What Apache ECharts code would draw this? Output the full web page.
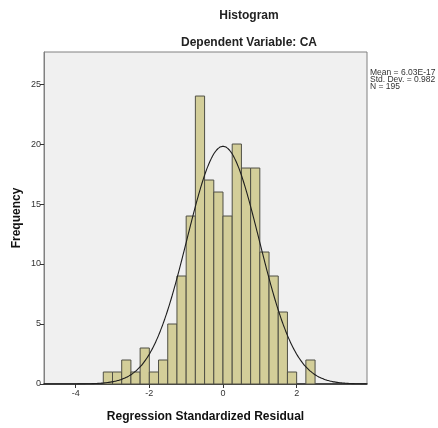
<!DOCTYPE html>
<html>
<head>
<meta charset="utf-8">
<title>Histogram</title>
<script src="https://cdn.jsdelivr.net/npm/echarts@6/dist/echarts.min.js"></script>
<style>
  html, body { margin: 0; padding: 0; background: #ffffff; }
  #chart { width: 438px; height: 428px; }
</style>
</head>
<body>
<div id="chart"></div>
<script>
// Lower edge of each residual bin (bin width 0.25)
const binLowerEdges = [-3.25, -3.0, -2.75, -2.5, -2.25, -2.0, -1.75, -1.5, -1.25, -1.0,
  -0.75, -0.5, -0.25, 0.0, 0.25, 0.5, 0.75, 1.0, 1.25, 1.5, 1.75, 2.0, 2.25];
const binWidth = 0.25;
// Frequency in each bin
const frequencies = [1, 1, 2, 1, 3, 1, 2, 5, 9, 14, 24, 17, 16, 14, 20, 18, 18, 11, 9, 6, 1, 0, 2];
// Summary statistics of the residuals
const stats = { mean: 6.03e-17, stdDev: 0.982, n: 195 };
const statLines = ['Mean = 6.03E-17', 'Std. Dev. = 0.982', 'N = 195'];
// Axis ticks
const xTicks = [-4, -2, 0, 2];
const yTicks = [0, 5, 10, 15, 20, 25];
const xRange = [-4.86, 3.91];
const yRange = [0, 27.67];

// Fitted normal curve scaled to counts per bin
const curve = [];
for (let x = xRange[0]; x <= xRange[1] + 1e-9; x += 0.04) {
  const z = (x - stats.mean) / stats.stdDev;
  const y = stats.n * binWidth / (stats.stdDev * Math.sqrt(2 * Math.PI)) * Math.exp(-0.5 * z * z);
  curve.push([x, y]);
}

const barData = binLowerEdges.map((lo, i) => [lo, lo + binWidth, frequencies[i]]);

const chart = echarts.init(document.getElementById('chart'), null, { renderer: 'canvas' });
const font = 'Arial, "Liberation Sans", sans-serif';

chart.setOption({
  animation: false,
  textStyle: { fontFamily: font },
  title: [
    { text: 'Histogram', left: 244, top: 5, textAlign: 'center',
      textStyle: { fontSize: 12, fontWeight: 'bold', color: '#222', fontFamily: font } },
    { text: 'Dependent Variable: CA', left: 244, top: 32, textAlign: 'center',
      textStyle: { fontSize: 12, fontWeight: 'bold', color: '#222', fontFamily: font } }
  ],
  grid: {
    left: 44, right: 71, top: 52, bottom: 43,
    show: true, backgroundColor: '#f0f0f0', borderColor: '#808080', borderWidth: 1
  },
  xAxis: {
    type: 'value', min: xRange[0], max: xRange[1],
    name: 'Regression Standardized Residual', nameLocation: 'middle', nameGap: 27,
    nameMoveOverlap: false,
    nameTextStyle: { fontSize: 12, fontWeight: 'bold', color: '#111', fontFamily: font },
    axisLine: { show: true, onZero: false, lineStyle: { color: '#222', width: 1.5 } },
    axisTick: { show: true, length: 4, customValues: xTicks, lineStyle: { color: '#333' } },
    axisLabel: { customValues: xTicks, fontSize: 9, color: '#333', margin: 5, fontFamily: font },
    splitLine: { show: false }
  },
  yAxis: {
    type: 'value', min: yRange[0], max: yRange[1],
    name: 'Frequency', nameLocation: 'middle', nameGap: 21, nameRotate: 90,
    nameMoveOverlap: false,
    nameTextStyle: { fontSize: 12, fontWeight: 'bold', color: '#111', fontFamily: font },
    axisLine: { show: true, onZero: false, lineStyle: { color: '#808080', width: 1 } },
    axisTick: { show: true, length: 4, customValues: yTicks, lineStyle: { color: '#333' } },
    axisLabel: { customValues: yTicks, fontSize: 9, color: '#333', margin: 3, fontFamily: font },
    splitLine: { show: false }
  },
  graphic: [{
    type: 'text', left: 370, top: 68,
    style: { text: statLines.join('\n'), font: '8.5px ' + font, lineHeight: 7, fill: '#333' }
  }],
  series: [
    {
      type: 'custom',
      data: barData,
      encode: { x: [0, 1], y: 2 },
      renderItem: function (params, api) {
        const p0 = api.coord([api.value(0), api.value(2)]);
        const p1 = api.coord([api.value(1), 0]);
        if (api.value(2) <= 0) return null;
        return {
          type: 'rect',
          shape: { x: p0[0], y: p0[1], width: p1[0] - p0[0], height: p1[1] - p0[1] },
          style: { fill: '#d3ce99', stroke: '#4f4f45', lineWidth: 1 }
        };
      },
      z: 2
    },
    {
      type: 'line',
      data: curve,
      showSymbol: false,
      smooth: true,
      lineStyle: { color: '#1e1e1e', width: 1.1 },
      z: 3
    }
  ]
});
</script>
</body>
</html>
